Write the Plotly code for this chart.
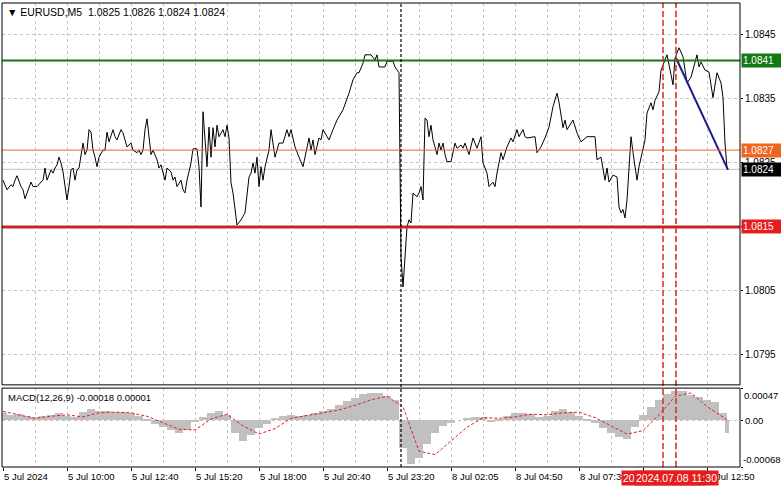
import plotly.graph_objects as go

# ---------------- data ----------------
bars = [0, 2, 4, 5, 6, 7, 9, 10, 11, 13, 14, 15, 17, 19, 20, 21, 22, 24, 25, 26, 27, 28, 29, 30, 31, 32, 33, 34, 35, 36,
        37, 38, 40, 41, 42, 43, 44, 45, 46, 47, 48, 50, 51, 52, 53, 55, 56, 57, 59, 60, 62, 64, 65, 67, 68, 69, 70, 71,
        72, 73, 74, 75, 77, 78, 79, 81, 82, 84, 85, 86, 87, 89, 90, 91, 92, 94, 95, 97, 98, 99, 100, 102, 103, 104, 105,
        106, 107, 108, 110, 111, 112, 113, 114, 115, 117, 119, 121, 123, 124, 125, 126, 127, 128, 129, 130, 131, 133,
        134, 136, 138, 140, 142, 143, 144, 146, 148, 150, 153, 154, 155, 156, 158, 159, 160, 163, 165, 167, 170, 171,
        173, 175, 177, 178, 180, 181, 184, 186, 187, 188, 191, 192, 195, 196, 198, 199, 200, 201, 202, 203, 204, 205,
        207, 208, 209, 210, 211, 212, 213, 214, 215, 216, 217, 218, 219, 220, 221, 222, 224, 226, 227, 229, 230, 231,
        233, 235, 236, 237, 239, 240, 242, 243, 245, 246, 247, 249, 250, 252, 254, 255, 257, 258, 260, 261, 262, 266,
        267, 269, 271, 273, 275, 277, 278, 280, 281, 282, 285, 287, 289, 291, 292, 296, 297, 299, 301, 302, 303, 305,
        307, 308, 309, 310, 311, 312, 313, 314, 315, 316, 317, 318, 319, 321, 322, 324, 325, 326, 328, 329, 331, 332,
        334, 335, 336, 338, 340, 342, 344, 345, 347, 348, 349, 351, 353, 355, 357, 359, 360, 361, 362]
close = [1.08223, 1.08208, 1.08216, 1.08213, 1.08223, 1.08230, 1.08213, 1.08208, 1.08194, 1.08213, 1.08220, 1.08213,
         1.08213, 1.08220, 1.08223, 1.08242, 1.08223, 1.08239, 1.08234, 1.08242, 1.08247, 1.08259, 1.08250, 1.08236,
         1.08213, 1.08192, 1.08213, 1.08239, 1.08242, 1.08223, 1.08239, 1.08242, 1.08281, 1.08263, 1.08270, 1.08302,
         1.08298, 1.08270, 1.08259, 1.08244, 1.08259, 1.08270, 1.08270, 1.08298, 1.08283, 1.08302, 1.08291, 1.08286,
         1.08302, 1.08297, 1.08275, 1.08281, 1.08270, 1.08266, 1.08270, 1.08263, 1.08270, 1.08302, 1.08319, 1.08286,
         1.08263, 1.08270, 1.08255, 1.08242, 1.08247, 1.08223, 1.08242, 1.08236, 1.08223, 1.08228, 1.08213, 1.08223,
         1.08208, 1.08203, 1.08223, 1.08250, 1.08272, 1.08272, 1.08244, 1.08181, 1.08330, 1.08244, 1.08306, 1.08259,
         1.08305, 1.08275, 1.08309, 1.08291, 1.08302, 1.08291, 1.08309, 1.08289, 1.08219, 1.08203, 1.08153, 1.08161,
         1.08172, 1.08228, 1.08234, 1.08250, 1.08234, 1.08259, 1.08213, 1.08244, 1.08223, 1.08244, 1.08270, 1.08302,
         1.08259, 1.08281, 1.08281, 1.08302, 1.08291, 1.08302, 1.08275, 1.08259, 1.08244, 1.08289, 1.08270, 1.08286,
         1.08263, 1.08289, 1.08286, 1.08302, 1.08286, 1.08302, 1.08317, 1.08333, 1.08341, 1.08359, 1.08380, 1.08391,
         1.08391, 1.08406, 1.08419, 1.08419, 1.08411, 1.08419, 1.08400, 1.08400, 1.08409, 1.08409, 1.08400, 1.08391,
         1.08103, 1.08056, 1.08103, 1.08150, 1.08161, 1.08156, 1.08203, 1.08197, 1.08203, 1.08213, 1.08192, 1.08320,
         1.08317, 1.08291, 1.08309, 1.08286, 1.08275, 1.08263, 1.08281, 1.08270, 1.08281, 1.08263, 1.08252, 1.08252,
         1.08281, 1.08273, 1.08278, 1.08273, 1.08281, 1.08263, 1.08289, 1.08281, 1.08273, 1.08291, 1.08250, 1.08234,
         1.08213, 1.08220, 1.08213, 1.08234, 1.08266, 1.08255, 1.08275, 1.08289, 1.08283, 1.08302, 1.08291, 1.08302,
         1.08291, 1.08289, 1.08291, 1.08266, 1.08275, 1.08289, 1.08306, 1.08338, 1.08359, 1.08345, 1.08305, 1.08317,
         1.08302, 1.08317, 1.08297, 1.08283, 1.08289, 1.08291, 1.08291, 1.08255, 1.08259, 1.08223, 1.08242, 1.08220,
         1.08231, 1.08228, 1.08181, 1.08172, 1.08177, 1.08164, 1.08192, 1.08234, 1.08291, 1.08266, 1.08244, 1.08223,
         1.08244, 1.08259, 1.08286, 1.08328, 1.08344, 1.08333, 1.08348, 1.08361, 1.08395, 1.08411, 1.08419, 1.08388,
         1.08372, 1.08414, 1.08430, 1.08416, 1.08375, 1.08384, 1.08395, 1.08419, 1.08400, 1.08408, 1.08395, 1.08392,
         1.08352, 1.08391, 1.08375, 1.08352, 1.08281, 1.08242]

macd_bars = [0, 4, 8, 12, 16, 20, 24, 28, 32, 36, 40, 44, 48, 52, 56, 60, 64, 68, 72, 76, 80, 84, 88, 92, 96, 100,
             104, 108, 112, 116, 120, 124, 128, 132, 136, 140, 144, 148, 152, 156, 160, 164, 168, 172, 176, 180, 184,
             188, 192, 196, 200, 204, 208, 212, 216, 220, 224, 228, 232, 236, 240, 244, 248, 252, 256, 260, 264, 268,
             272, 276, 280, 284, 288, 292, 296, 300, 304, 308, 312, 316, 320, 324, 328, 332, 336, 340, 344, 348, 352,
             356, 360, 362]
macd_hist = [0.00010, 0.00008, 0.00009, 0.00006, 0.00005, 0.00006, 0.00008, 0.00010, 0.00006, 0.00004,
             0.00012, 0.00017, 0.00014, 0.00013, 0.00012, 0.00012, 0.00010, 0.00006, 0.00002, -0.00005,
             -0.00010, -0.00014, -0.00018, -0.00014, -0.00003, 0.00005, 0.00010, 0.00013, 0.00008, -0.00018,
             -0.00030, -0.00022, -0.00012, -0.00006, 0.00003, 0.00006, 0.00008, 0.00006, 0.00008, 0.00010,
             0.00013, 0.00016, 0.00022, 0.00028, 0.00033, 0.00038, 0.00040, 0.00039, 0.00036, 0.00030,
             -0.00040, -0.00064, -0.00055, -0.00035, -0.00018, -0.00008, -0.00004, 0.00000, 0.00003, 0.00005,
             0.00004, -0.00002, 0.00001, 0.00006, 0.00010, 0.00011, 0.00009, 0.00005, 0.00006, 0.00013,
             0.00016, 0.00012, 0.00006, 0.00002, -0.00004, -0.00012, -0.00018, -0.00025, -0.00028, -0.00010,
             0.00008, 0.00020, 0.00030, 0.00038, 0.00042, 0.00043, 0.00037, 0.00034, 0.00030, 0.00026,
             0.00010, -0.00018]
macd_width = [4] * 91 + [2]

signal_bars = [0, 8, 16, 24, 32, 40, 48, 56, 64, 72, 80, 88, 96, 104, 112, 120, 128, 136, 144, 152, 160, 168, 176,
               184, 192, 200, 208, 216, 224, 232, 240, 248, 256, 264, 272, 280, 288, 296, 304, 312, 320, 328, 336,
               344, 352, 360, 362]
signal = [0.00013, 0.00008, 0.00003, 0.00006, 0.00008, 0.00005, 0.00011, 0.00012, 0.00011, 0.00006,
          -0.00003, -0.00013, -0.00014, 0.00002, 0.00009, -0.00008, -0.00020, -0.00012, 0.00003, 0.00007,
          0.00010, 0.00015, 0.00022, 0.00030, 0.00035, 0.00020, -0.00045, -0.00050, -0.00030, -0.00010,
          0.00004, 0.00003, 0.00005, 0.00009, 0.00008, 0.00011, 0.00012, 0.00004, -0.00008, -0.00020,
          -0.00015, 0.00008, 0.00035, 0.00040, 0.00020, 0.00005, 0.00001]

time_tick_bars = [0, 32, 64, 96, 128, 160, 192, 224, 256, 288, 320, 352]
time_tick_labels = ["5 Jul 2024", "5 Jul 10:00", "5 Jul 12:40", "5 Jul 15:20", "5 Jul 18:00", "5 Jul 20:40",
                    "5 Jul 23:20", "8 Jul 02:05", "8 Jul 04:50", "8 Jul 07:30", "8 Jul 10:10", "8 Jul 12:50"]
price_ticks = [1.0795, 1.0805, 1.0815, 1.0825, 1.0835, 1.0845]
price_tick_labels = ["1.0795", "1.0805", "1.0815", "1.0825", "1.0835", "1.0845"]

level_prices = [1.0841, 1.0827, 1.0815]
level_labels = ["1.0841", "1.0827", "1.0815"]
level_line_colors = ["#147814", "#e0642a", "#c82424"]
level_box_colors = ["#147814", "#f0641e", "#e41e1e"]
level_widths = [2, 1, 3]
bid_price = 1.0824
bid_label = "1.0824"

separator_bar = 199
marker_bars = [330, 336.5]
marker_labels = ["2024.07.08 11:00", "2024.07.08 11:30"]

trend_bars = [336.5, 362.5]
trend_prices = [1.08414, 1.08239]

title_text = "\u25bc EURUSD,M5\u00a0\u00a01.0825 1.0826 1.0824 1.0824"
macd_text = "MACD(12,26,9) -0.00018 0.00001"
macd_range = [-0.00068, 0.00047]

# ---------------- figure ----------------
FONT = "Liberation Sans"
GRID = "#c4c4c4"
SMALL = 9.5

fig = go.Figure()
fig.add_trace(go.Scatter(x=bars, y=close, mode="lines", line=dict(color="black", width=1),
                         xaxis="x", yaxis="y", showlegend=False))
fig.add_trace(go.Scatter(x=trend_bars, y=trend_prices, mode="lines", line=dict(color="#1c1c8c", width=2),
                         xaxis="x", yaxis="y", showlegend=False))
fig.add_trace(go.Bar(x=macd_bars, y=macd_hist, width=macd_width, marker=dict(color="#c0c0c0", line=dict(width=0)),
                     xaxis="x", yaxis="y2", showlegend=False))
fig.add_trace(go.Scatter(x=signal_bars, y=signal, mode="lines",
                         line=dict(color="#e02020", width=1, dash="3px,2px"),
                         xaxis="x", yaxis="y2", showlegend=False))

shapes = []
for p, c, w in zip(level_prices, level_line_colors, level_widths):
    shapes.append(dict(type="line", xref="x domain", x0=0, x1=1, yref="y", y0=p, y1=p,
                       line=dict(color=c, width=w), layer="above"))
shapes.append(dict(type="line", xref="x domain", x0=0, x1=1, yref="y", y0=bid_price, y1=bid_price,
                   line=dict(color="#c0c0c0", width=1), layer="below"))
shapes.append(dict(type="line", xref="x", x0=separator_bar, x1=separator_bar, yref="paper", y0=0, y1=1,
                   line=dict(color="black", width=1.2, dash="3px,2px")))
for b in marker_bars:
    shapes.append(dict(type="line", xref="x", x0=b, x1=b, yref="paper", y0=0, y1=1,
                       line=dict(color="#d42a2a", width=1.5, dash="6px,3px")))
for yd in ["y domain", "y2 domain"]:
    shapes.append(dict(type="rect", xref="x domain", x0=0, x1=1, yref=yd, y0=0, y1=1,
                       line=dict(color="black", width=1), fillcolor="rgba(0,0,0,0)"))

annotations = []
annotations.append(dict(text=title_text, xref="paper", yref="paper", x=0.004, y=1, xanchor="left", yanchor="top",
                        yshift=-1, showarrow=False, font=dict(family=FONT, size=10.5, color="black")))
annotations.append(dict(text=macd_text, xref="paper", yref="y2 domain", x=0.006, y=1, xanchor="left",
                        yanchor="top", yshift=-2, showarrow=False, font=dict(family=FONT, size=SMALL, color="black")))
for b, t in zip(time_tick_bars, time_tick_labels):
    annotations.append(dict(text=t, xref="x", yref="paper", x=b, y=0, xanchor="left", yanchor="top",
                            yshift=-3, borderpad=0, showarrow=False, font=dict(family=FONT, size=SMALL, color="black")))
for b, t in zip(marker_bars, marker_labels):
    annotations.append(dict(text=t, xref="x", yref="paper", x=b, y=0, xanchor="center", yanchor="top",
                            yshift=-3, borderpad=1, bgcolor="#e41e1e", showarrow=False,
                            font=dict(family=FONT, size=10.5, color="white")))
for p, t, c in zip(level_prices, level_labels, level_box_colors):
    annotations.append(dict(text=t, xref="paper", yref="y", x=1, y=p, xanchor="left", yanchor="middle",
                            xshift=1, borderpad=1, bgcolor=c, width=37, align="left", showarrow=False,
                            font=dict(family=FONT, size=10, color="white")))
annotations.append(dict(text=bid_label, xref="paper", yref="y", x=1, y=bid_price, xanchor="left", yanchor="middle",
                        xshift=1, borderpad=1, bgcolor="black", width=37, align="left", showarrow=False,
                        font=dict(family=FONT, size=10, color="white")))
annotations.append(dict(text="0.00047", xref="paper", yref="y2", x=1, y=macd_range[1], xanchor="left",
                        yanchor="top", xshift=2, showarrow=False, font=dict(family=FONT, size=SMALL, color="black")))
annotations.append(dict(text="-0.00068", xref="paper", yref="y2", x=1, y=macd_range[0], xanchor="left",
                        yanchor="bottom", xshift=1, showarrow=False, font=dict(family=FONT, size=SMALL, color="black")))

fig.update_layout(
    width=781, height=489,
    margin=dict(l=2, r=41, t=3, b=22),
    paper_bgcolor="white", plot_bgcolor="white",
    font=dict(family=FONT, size=10, color="black"),
    bargap=0,
    xaxis=dict(domain=[0, 1], anchor="y2", range=[-0.5, 368.5], tickmode="array", tickvals=time_tick_bars,
               showticklabels=False, ticks="outside", ticklen=3, tickcolor="black",
               showgrid=True, gridcolor=GRID, griddash="3px,3px", gridwidth=1, zeroline=False, showline=False,
               minor=dict(tickmode="array", tickvals=[b + 16 for b in time_tick_bars], showgrid=True,
                          gridcolor=GRID, griddash="3px,3px", ticks="")),
    yaxis=dict(domain=[0.177, 1], anchor="x", side="right", range=[1.07903, 1.0850], tickmode="array",
               tickvals=price_ticks, ticktext=price_tick_labels, ticks="outside", ticklen=2, tickcolor="black",
               showgrid=True, gridcolor=GRID, griddash="3px,3px", zeroline=False, showline=False,
               tickfont=dict(family=FONT, size=10, color="black")),
    yaxis2=dict(domain=[0, 0.170], anchor="x", side="right", range=macd_range, tickmode="array",
                tickvals=[macd_range[0], 0, macd_range[1]], ticktext=["", "0.00", ""], ticks="outside", ticklen=2,
                tickcolor="black", showgrid=True, gridcolor=GRID, griddash="3px,3px", zeroline=False,
                showline=False, tickfont=dict(family=FONT, size=SMALL, color="black")),
    shapes=shapes,
    annotations=annotations,
)

fig.write_html("out.html", config={"displayModeBar": False},
               post_script="document.body.style.margin='0';document.body.style.overflow='hidden';")
